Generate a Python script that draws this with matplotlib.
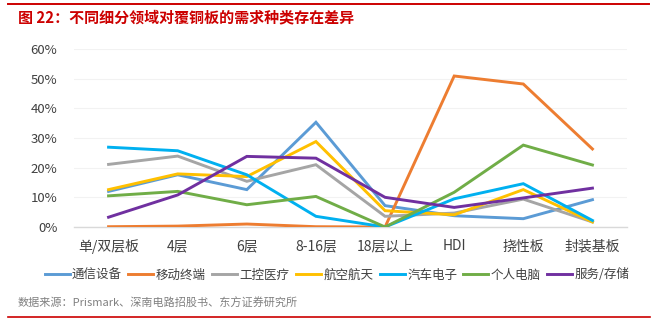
import matplotlib
matplotlib.use("Agg")
import matplotlib.pyplot as plt
from matplotlib.lines import Line2D
from matplotlib.ticker import FuncFormatter, MultipleLocator

plt.rcParams['font.family'] = ['Noto Sans CJK SC', 'DejaVu Sans']

categories = ["单/双层板", "4层", "6层", "8-16层", "18层以上", "HDI", "挠性板", "封装基板"]

series_names = ["通信设备", "移动终端", "工控医疗", "航空航天", "汽车电子", "个人电脑", "服务/存储"]
series_colors = ["#5B9BD5", "#ED7D31", "#A5A5A5", "#FFC000", "#00B0F0", "#70AD47", "#7030A0"]

telecom = [12.0, 17.6, 12.6, 35.3, 7.2, 3.8, 2.8, 9.2]
mobile = [0.1, 0.3, 1.0, 0.1, 0.0, 50.9, 48.2, 26.3]
industrial_medical = [21.1, 23.9, 15.4, 21.0, 3.6, 4.7, 9.4, 1.7]
aerospace = [12.6, 17.9, 17.0, 28.8, 5.5, 4.1, 12.6, 1.7]
automotive = [26.9, 25.7, 17.6, 3.6, 0.0, 9.5, 14.6, 2.2]
pc = [10.5, 12.0, 7.5, 10.3, 0.0, 11.7, 27.6, 20.9]
server_storage = [3.3, 10.8, 23.8, 23.2, 10.0, 6.6, 9.8, 13.1]

all_series = [telecom, mobile, industrial_medical, aerospace, automotive, pc, server_storage]

fig = plt.figure(figsize=(6.53, 3.23), dpi=100)

# red rules framing the figure block
fig.add_artist(Line2D([8 / 653, 649 / 653], [1 - 4.3 / 323] * 2, color="#CC0000", lw=1.4))
fig.add_artist(Line2D([8 / 653, 650 / 653], [1 - 316.5 / 323] * 2, color="#CC0000", lw=1.2))

fig.text(18 / 653, 1 - 17 / 323, "图 22：不同细分领域对覆铜板的需求种类存在差异",
         color="#CC0000", fontsize=10.8, fontweight="bold", va="center", ha="left")

ax = fig.add_axes([74 / 653, 1 - 227 / 323, 553 / 653, 178 / 323])
x = list(range(len(categories)))
handles = []
for name, color, vals in zip(series_names, series_colors, all_series):
    h, = ax.plot(x, [v / 100 for v in vals], color=color, lw=2.1, label=name,
                 solid_joinstyle="miter", zorder=3)
    handles.append(h)

ax.set_xlim(-0.5, len(categories) - 0.5)
ax.set_ylim(0, 0.6)
ax.yaxis.set_major_locator(MultipleLocator(0.1))
ax.yaxis.set_major_formatter(FuncFormatter(lambda v, p: f"{v * 100:.0f}%"))
ax.set_xticks(x)
ax.set_xticklabels(categories)
ax.tick_params(axis="both", length=0, labelsize=9.5, colors="#404040")
ax.tick_params(axis="y", pad=12)
ax.tick_params(axis="x", pad=9, labelsize=10)
ax.grid(axis="y", color="#F2F2F2", lw=0.8, zorder=0)
for side in ["top", "right", "left"]:
    ax.spines[side].set_visible(False)
ax.spines["bottom"].set_color("#D9D9D9")
ax.spines["bottom"].set_linewidth(1.0)

fig.legend(handles=handles, labels=series_names, loc="center",
           bbox_to_anchor=(337 / 653, 1 - 275 / 323), ncol=7, frameon=False,
           fontsize=9, handlelength=2.0, handletextpad=0.2, columnspacing=0.5,
           borderaxespad=0, borderpad=0, labelcolor="#404040")

fig.text(18 / 653, 1 - 303 / 323, "数据来源：Prismark、深南电路招股书、东方证券研究所",
         color="#808080", fontsize=8, va="center", ha="left")

fig.savefig("out.png", dpi=100)
